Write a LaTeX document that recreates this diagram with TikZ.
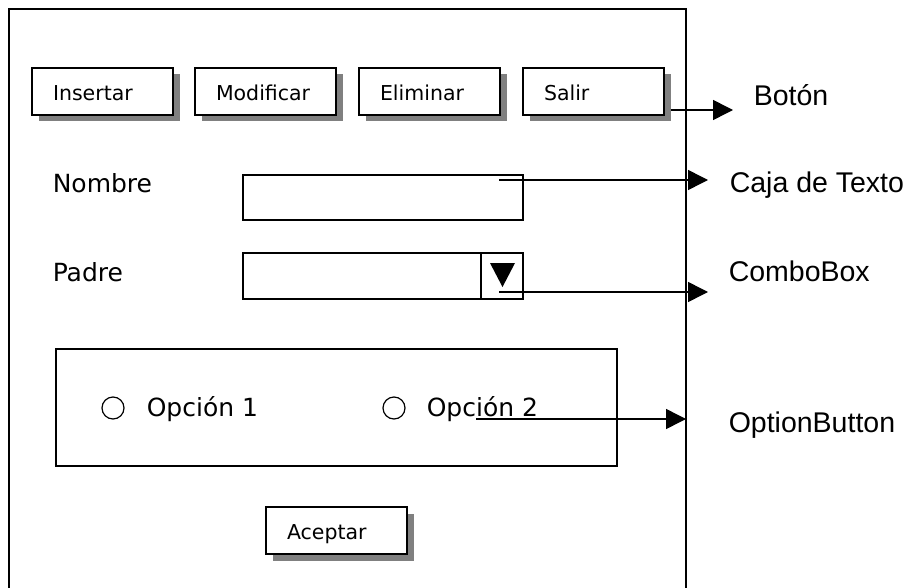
\documentclass[tikz,border=0pt]{standalone}
\usepackage{fontspec}
\setmainfont{DejaVu Sans}
\newfontfamily\arialfont{Liberation Sans}
\usetikzlibrary{arrows.meta,shadows}
\definecolor{shadowgray}{HTML}{808080}

\begin{document}
\begin{tikzpicture}[x=1pt,y=-1pt,line width=1.5pt,
  button/.style={draw,fill=white,rectangle,anchor=north west,outer sep=0pt,
    minimum height=47pt,inner xsep=21pt,inner ysep=0pt,text width=99pt,
    align=left,text height=17.5pt,text depth=0pt,
    font=\fontsize{20.5}{20.5}\selectfont,
    drop shadow={shadow xshift=6.5pt,shadow yshift=-6.5pt,fill=shadowgray,opacity=1}},
  field/.style={draw,rectangle,anchor=north west,inner sep=0pt,outer sep=0pt},
  lbl/.style={anchor=base west,inner sep=0pt,font=\fontsize{25}{25}\selectfont},
  note/.style={anchor=base west,inner sep=0pt,font=\arialfont\fontsize{28.5}{28.5}\selectfont},
  radio/.style={circle,draw,line width=1.2pt,minimum size=22pt,inner sep=0pt},
  conn/.style={-{Triangle[length=20pt,width=20pt]},line width=1.5pt}]

\clip (0,0) rectangle (909,588);
\fill[white] (0,0) rectangle (909,588);

% window frame (open at the bottom edge)
\draw (9,600) -- (9,9) -- (686,9) -- (686,600);

% toolbar buttons
\node[button] (insertar)  at (32,68)  {Insertar};
\node[button] (modificar) at (195,68) {Modificar};
\node[button] (eliminar)  at (359,68) {Eliminar};
\node[button] (salir)     at (523,68) {Salir};

% form fields
\node[lbl] (nombre) at (52,193) {Nombre};
\node[field,minimum width=280pt,minimum height=45pt] (caja) at (243,175) {};

\node[lbl] (padre) at (52,281) {Padre};
\node[field,minimum width=280pt,minimum height=46pt] (combo) at (243,253) {};
\draw ([xshift=238pt]combo.north west) -- ([xshift=238pt]combo.south west);
\fill (490,263) -- (515,263) -- (502.5,287) -- cycle;

% option group
\node[field,minimum width=561pt,minimum height=117pt] (grupo) at (56,349) {};
\node[radio] (r1) at (113,408) {};
\node[lbl] (op1) at (146,416) {Opción 1};
\node[radio] (r2) at (394,408) {};
\node[lbl] (op2) at (426,416) {Opción 2};

% accept button
\node[button] (aceptar) at (266,507) {Aceptar};

% callout labels
\node[note] (boton)  at (753,106) {Botón};
\node[note] (texto)  at (729,193) {Caja de Texto};
\node[note] (cbox)   at (728,281) {ComboBox};
\node[note] (obtn)   at (728,432) {OptionButton};

% callout arrows
\coordinate (tipBoton) at (733,110);
\coordinate (tipTexto) at (708,180);
\coordinate (tipCombo) at (708,292);
\coordinate (tipOpcion) at (686,419);

\draw[conn] ([xshift=6.5pt,yshift=-18.5pt]salir.east) -- (tipBoton);
\draw[conn] ([xshift=256pt,yshift=-5pt]caja.north west) -- (tipTexto);
\draw[conn] ([xshift=256pt,yshift=7pt]combo.south west) -- (tipCombo);
\draw[conn] ([xshift=50pt,yshift=-3pt]op2.base west) -- (tipOpcion);
\end{tikzpicture}
\end{document}
